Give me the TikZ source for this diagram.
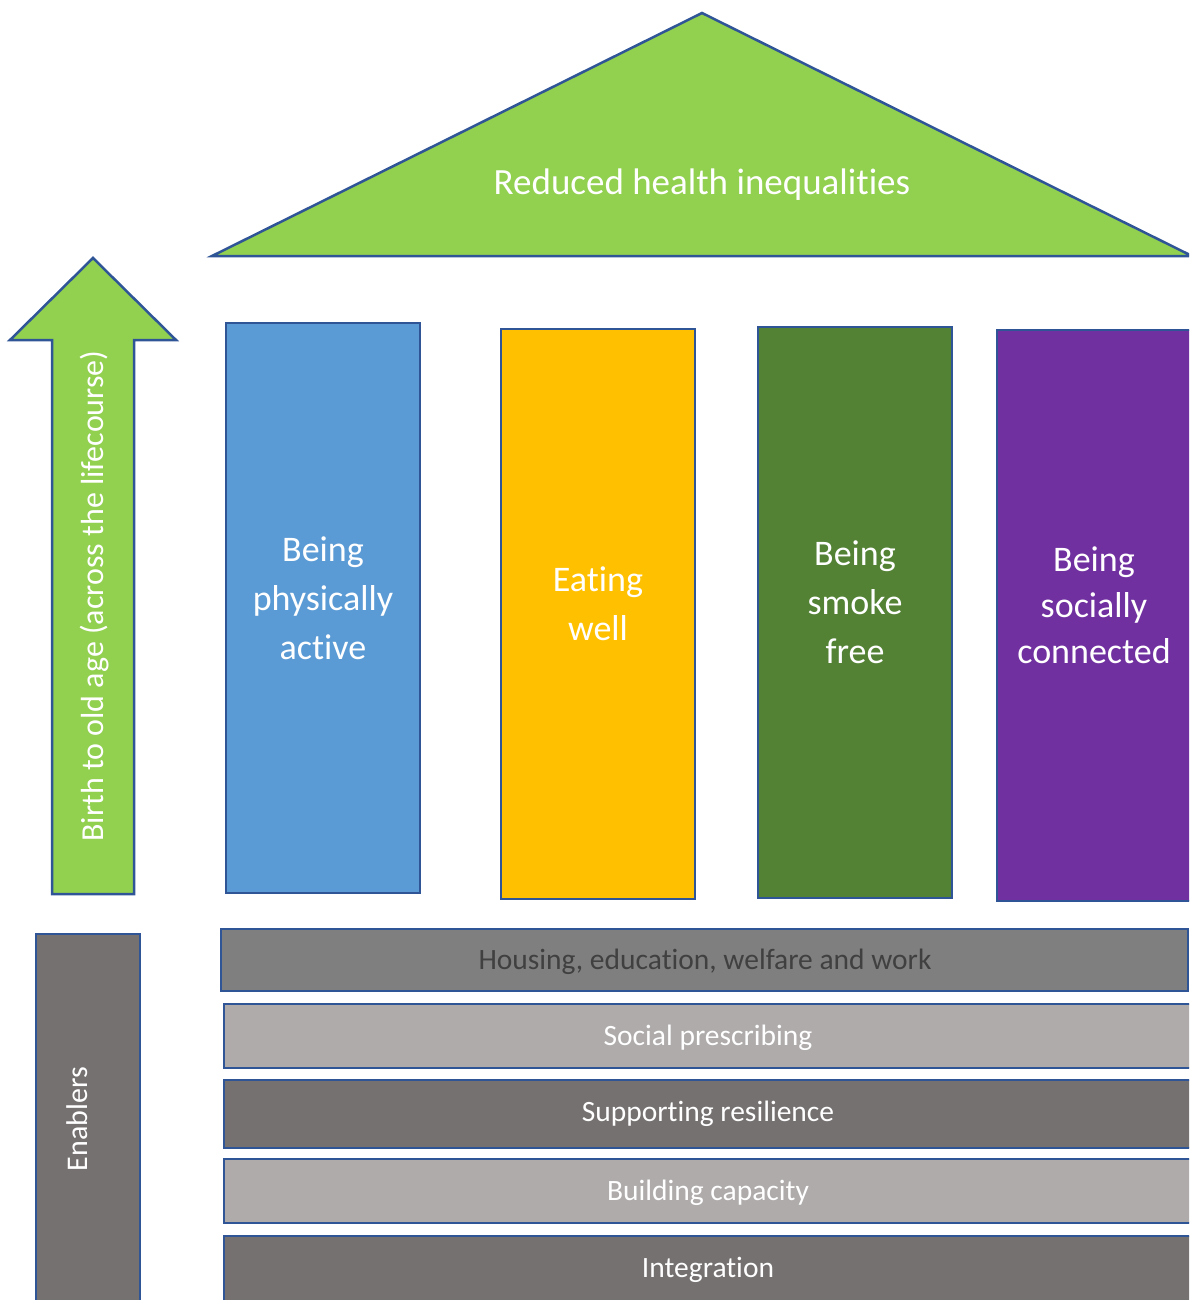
\documentclass[tikz,border=0pt]{standalone}
\usepackage{fontspec}
\setmainfont{Carlito}[Ligatures={NoCommon}]
\definecolor{roofgreen}{HTML}{92D050}
\definecolor{edgeblue}{HTML}{2F5597}
\definecolor{pblue}{HTML}{5B9BD5}
\definecolor{pyellow}{HTML}{FFC000}
\definecolor{pgreen}{HTML}{548235}
\definecolor{ppurple}{HTML}{7030A0}
\definecolor{gmid}{HTML}{7F7F7F}
\definecolor{glight}{HTML}{AFABAB}
\definecolor{gdark}{HTML}{767171}
\definecolor{txtdark}{HTML}{404040}
\tikzset{
  shapeedge/.style={draw=edgeblue, line width=2.5pt, line join=miter},
  pillartext/.style={text=white, align=center, font=\fontsize{36}{49}\selectfont},
  bartext/.style={text=white, font=\fontsize{29.5}{35}\selectfont},
  vertext/.style={text=white, rotate=90},
}
\begin{document}
\begin{tikzpicture}[x=1pt,y=-1pt]
\clip (0,0) rectangle (1189,1300);
% roof
\draw[shapeedge, fill=roofgreen] (702,13) -- (1192,256) -- (212,256) -- cycle;
\node[text=white, font=\fontsize{37}{44}\selectfont] (roof) at (702,185) {Reduced health inequalities};
% arrow
\draw[shapeedge, fill=roofgreen] (93,258) -- (176,340) -- (134,340) -- (134,894) -- (52,894) -- (52,340) -- (10,340) -- cycle;
\node[vertext, font=\fontsize{32}{38}\selectfont] (life) at (95,596) {Birth to old age (across the lifecourse)};
% pillars
\draw[shapeedge, fill=pblue] (226,323) rectangle (420,893);
\node[pillartext] (p1) at (323,598) {Being\\physically\\active};
\draw[shapeedge, fill=pyellow] (501,329) rectangle (695,899);
\node[pillartext] (p2) at (598,604) {Eating\\well};
\draw[shapeedge, fill=pgreen] (758,327) rectangle (952,898);
\node[pillartext] (p3) at (855,602) {Being\\smoke\\free};
\draw[shapeedge, fill=ppurple] (997,330) rectangle (1196,901);
\node[pillartext, font=\fontsize{36}{46}\selectfont] (p4) at (1094,605) {Being\\socially\\connected};
% enablers
\draw[shapeedge, fill=gdark] (36,934) rectangle (140,1310);
\node[vertext, font=\fontsize{30}{36}\selectfont] (enab) at (77,1119) {Enablers};
% bars
\draw[shapeedge, fill=gmid] (221,929) rectangle (1188,991);
\node[bartext, text=txtdark] (b1) at (705,962) {Housing, education, welfare and work};
\draw[shapeedge, fill=glight] (224,1004) rectangle (1196,1068);
\node[bartext] (b2) at (708,1038) {Social prescribing};
\draw[shapeedge, fill=gdark] (224,1080) rectangle (1196,1148);
\node[bartext] (b3) at (708,1114) {Supporting resilience};
\draw[shapeedge, fill=glight] (224,1159) rectangle (1196,1223);
\node[bartext] (b4) at (708,1193) {Building capacity};
\draw[shapeedge, fill=gdark] (224,1236) rectangle (1196,1310);
\node[bartext] (b5) at (708,1270) {Integration};
\end{tikzpicture}
\end{document}
